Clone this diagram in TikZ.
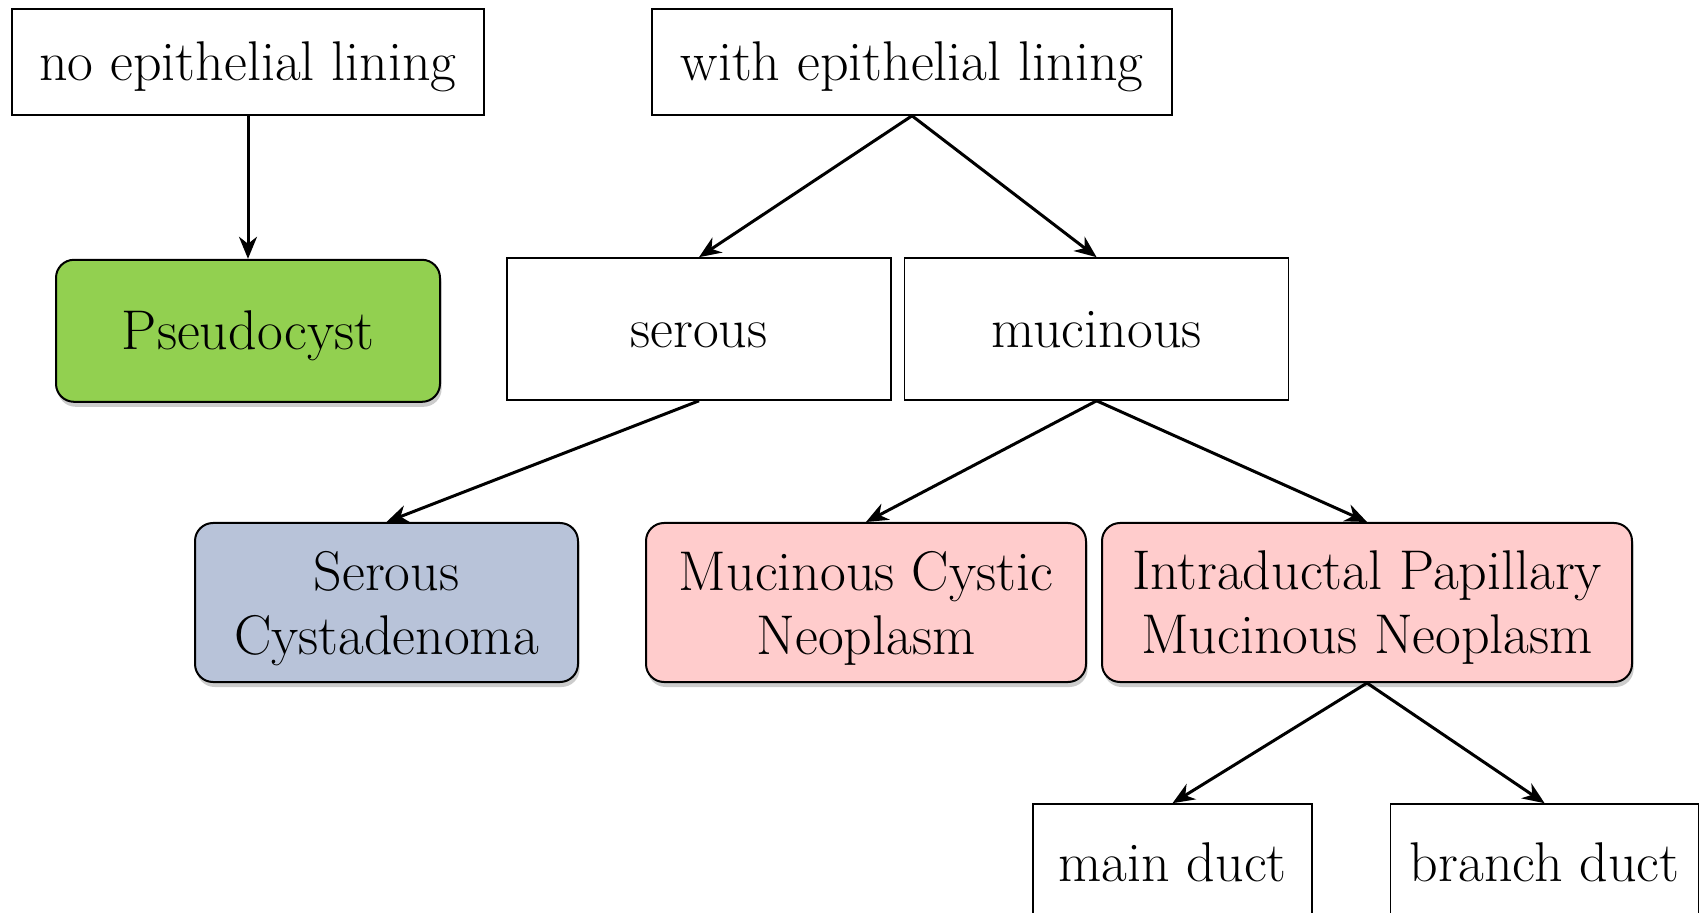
\documentclass[tikz,border=0pt]{standalone}
\usepackage{tikz}
\usetikzlibrary{arrows.meta,positioning,shadows}
\definecolor{cyGreen}{HTML}{92D050}
\definecolor{cyBlue}{HTML}{B8C3D9}
\definecolor{cyPink}{HTML}{FFCCCC}

\begin{document}
\begin{tikzpicture}[
  x=0.5pt, y=-0.5pt,
  feature/.style={draw, line width=0.8pt, fill=white, inner sep=0pt, minimum height=53pt, font=\fontsize{28}{32}\selectfont, text height=25pt, text depth=6pt},
  diag/.style={draw, line width=1pt, rounded corners=9pt, inner sep=0pt, minimum height=79.5pt, font=\fontsize{28}{32}\selectfont, align=center, text depth=0pt, drop shadow={shadow xshift=0.8pt, shadow yshift=-2.5pt, opacity=0.4}},
  link/.style={-{Stealth[length=11pt, width=9pt, inset=3.5pt]}, line width=1.5pt}
]
  \useasboundingbox (0,0) rectangle (1700,913);
  \clip (0,0) rectangle (1700,913);

  % first split
  \node[feature, minimum width=236pt] (nolining) at (248,62) {no epithelial lining};
  \node[feature, minimum width=260pt] (withlining) at (912,62) {with epithelial lining};
  \node[diag, fill=cyGreen, minimum width=192pt, minimum height=71pt, text height=25pt, text depth=6pt, below=71.5pt of nolining] (pseudo) {Pseudocyst};

  % fluid type
  \node[feature, minimum width=192pt, minimum height=71pt] (serous) at (699,329) {serous};
  \node[feature, minimum width=192pt, minimum height=71pt, right=6pt of serous] (mucinous) {mucinous};

  % diagnoses
  \node[diag, fill=cyBlue, minimum width=191.5pt] (serousca) at (386.5,602.5) {Serous\\Cystadenoma};
  \node[diag, fill=cyPink, minimum width=220pt] (mcn) at (866,602.5) {Mucinous Cystic\\Neoplasm};
  \node[diag, fill=cyPink, minimum width=265pt, right=7pt of mcn] (ipmn) {Intraductal Papillary\\Mucinous Neoplasm};

  % ipmn subtypes
  \node[feature, minimum width=139.5pt, minimum height=58pt] (mainduct) at (1172.5,862) {main duct};
  \node[feature, minimum width=154pt, minimum height=58pt, right=38.5pt of mainduct] (branchduct) {branch duct};

  \draw[link] (nolining.south) -- (pseudo.north);
  \draw[link] (withlining.south) -- (serous.north);
  \draw[link] (withlining.south) -- (mucinous.north);
  \draw[link] (serous.south) -- (serousca.north);
  \draw[link] (mucinous.south) -- (mcn.north);
  \draw[link] (mucinous.south) -- (ipmn.north);
  \draw[link] (ipmn.south) -- (mainduct.north);
  \draw[link] (ipmn.south) -- (branchduct.north);
\end{tikzpicture}
\end{document}
